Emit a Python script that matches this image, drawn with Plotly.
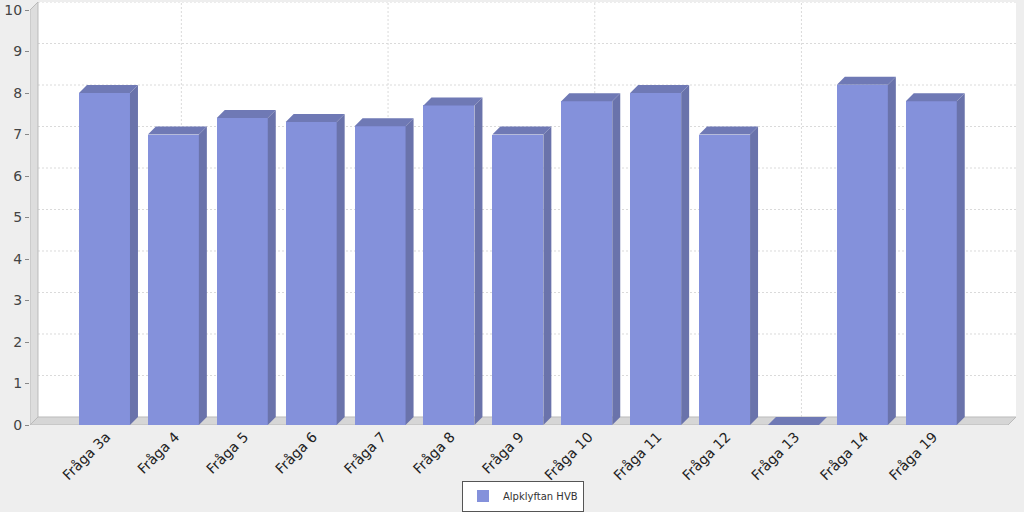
import plotly.graph_objects as go

categories = ["Fråga 3a", "Fråga 4", "Fråga 5", "Fråga 6", "Fråga 7", "Fråga 8", "Fråga 9",
              "Fråga 10", "Fråga 11", "Fråga 12", "Fråga 13", "Fråga 14", "Fråga 19"]
values = [8.0, 7.0, 7.4, 7.3, 7.2, 7.7, 7.0, 7.8, 8.0, 7.0, 0.0, 8.2, 7.8]
series_name = "Alpklyftan HVB"
y_ticks = list(range(0, 11))
grid_categories = [1, 4, 7, 10]

# geometry (data units)
DX = 0.116      # 3D depth in x
DY = 0.193      # 3D depth in y
BW = 0.74       # bar width
X0 = -1.081
X1 = 13.23
Y1 = 10 + DY

FRONT = "#8491DB"
TOP = "#6F79B5"
SIDE = "#6A73AB"

xs = list(range(len(categories)))
fig = go.Figure()

# front faces
fig.add_trace(go.Bar(x=xs, y=values, width=BW, marker=dict(color=FRONT, line=dict(width=0)),
                     name=series_name, showlegend=True))

# top and side faces
tx, ty, sx, sy = [], [], [], []
for x, v in zip(xs, values):
    l, r = x - BW / 2, x + BW / 2
    tx += [l, l + DX, r + DX, r, l, None]
    ty += [v, v + DY, v + DY, v, v, None]
    sx += [r, r, r + DX, r + DX, r, None]
    sy += [0, v, v + DY, DY, 0, None]
fig.add_trace(go.Scatter(x=tx, y=ty, mode="lines", fill="toself", fillcolor=TOP,
                         line=dict(width=0, color=TOP), hoverinfo="skip", showlegend=False))
fig.add_trace(go.Scatter(x=sx, y=sy, mode="lines", fill="toself", fillcolor=SIDE,
                         line=dict(width=0, color=SIDE), hoverinfo="skip", showlegend=False))

shapes = [
    # back wall
    dict(type="rect", xref="x", yref="y", x0=X0 + DX, x1=X1, y0=DY, y1=Y1,
         fillcolor="white", line=dict(width=0), layer="below"),
]
grid_line = dict(color="#DADADA", width=1, dash="2px,2px")
for v in y_ticks[1:]:
    shapes.append(dict(type="line", xref="x", yref="y", x0=X0 + DX, x1=X1, y0=v + DY, y1=v + DY,
                       line=grid_line, layer="below"))
for c in grid_categories:
    shapes.append(dict(type="line", xref="x", yref="y", x0=c + DX, x1=c + DX, y0=DY, y1=10 + DY,
                       line=grid_line, layer="below"))
shapes += [
    # left wall
    dict(type="path", xref="x", yref="y",
         path=f"M {X0},0 L {X0 + DX},{DY} L {X0 + DX},{Y1} L {X0},10 Z",
         fillcolor="#DDDDDD", line=dict(color="#BBBBBB", width=1), layer="below"),
    # floor
    dict(type="path", xref="x", yref="y",
         path=f"M {X0},0 L {X1 - DX},0 L {X1},{DY} L {X0 + DX},{DY} Z",
         fillcolor="#D6D6D6", line=dict(color="#BBBBBB", width=1), layer="below"),
]

fig.update_layout(
    width=1024, height=512,
    margin=dict(l=30, r=8, t=2, b=87, autoexpand=False),
    paper_bgcolor="#EEEEEE", plot_bgcolor="#EEEEEE",
    font=dict(family="DejaVu Sans", color="#333333"),
    shapes=shapes,
    bargap=0,
    xaxis=dict(range=[X0, X1], tickmode="array", tickvals=xs, ticktext=categories,
               tickangle=-45, tickfont=dict(size=14, color="#222222"), automargin=False,
               ticklabelshift=2, ticklabelstandoff=0,
               showgrid=False, zeroline=False, showline=False, ticks=""),
    yaxis=dict(range=[0, Y1], tickmode="array", tickvals=y_ticks, automargin=False,
               tickfont=dict(size=14, color="#444444"),
               showgrid=False, zeroline=False, showline=False,
               ticks="outside", ticklen=4, tickcolor="#888888"),
    legend=dict(orientation="h", x=0.5, xanchor="center", yref="container", y=0.5 / 512,
                yanchor="bottom", bgcolor="white", bordercolor="#555555", borderwidth=1,
                font=dict(size=10, color="#333333"), itemwidth=30,
                tracegroupgap=0),
)

fig.write_html("out.html",
               config={"displayModeBar": False},
               post_script="document.body.style.margin='0';document.body.style.overflow='hidden';"
                           "document.body.style.background='#EEEEEE';")
